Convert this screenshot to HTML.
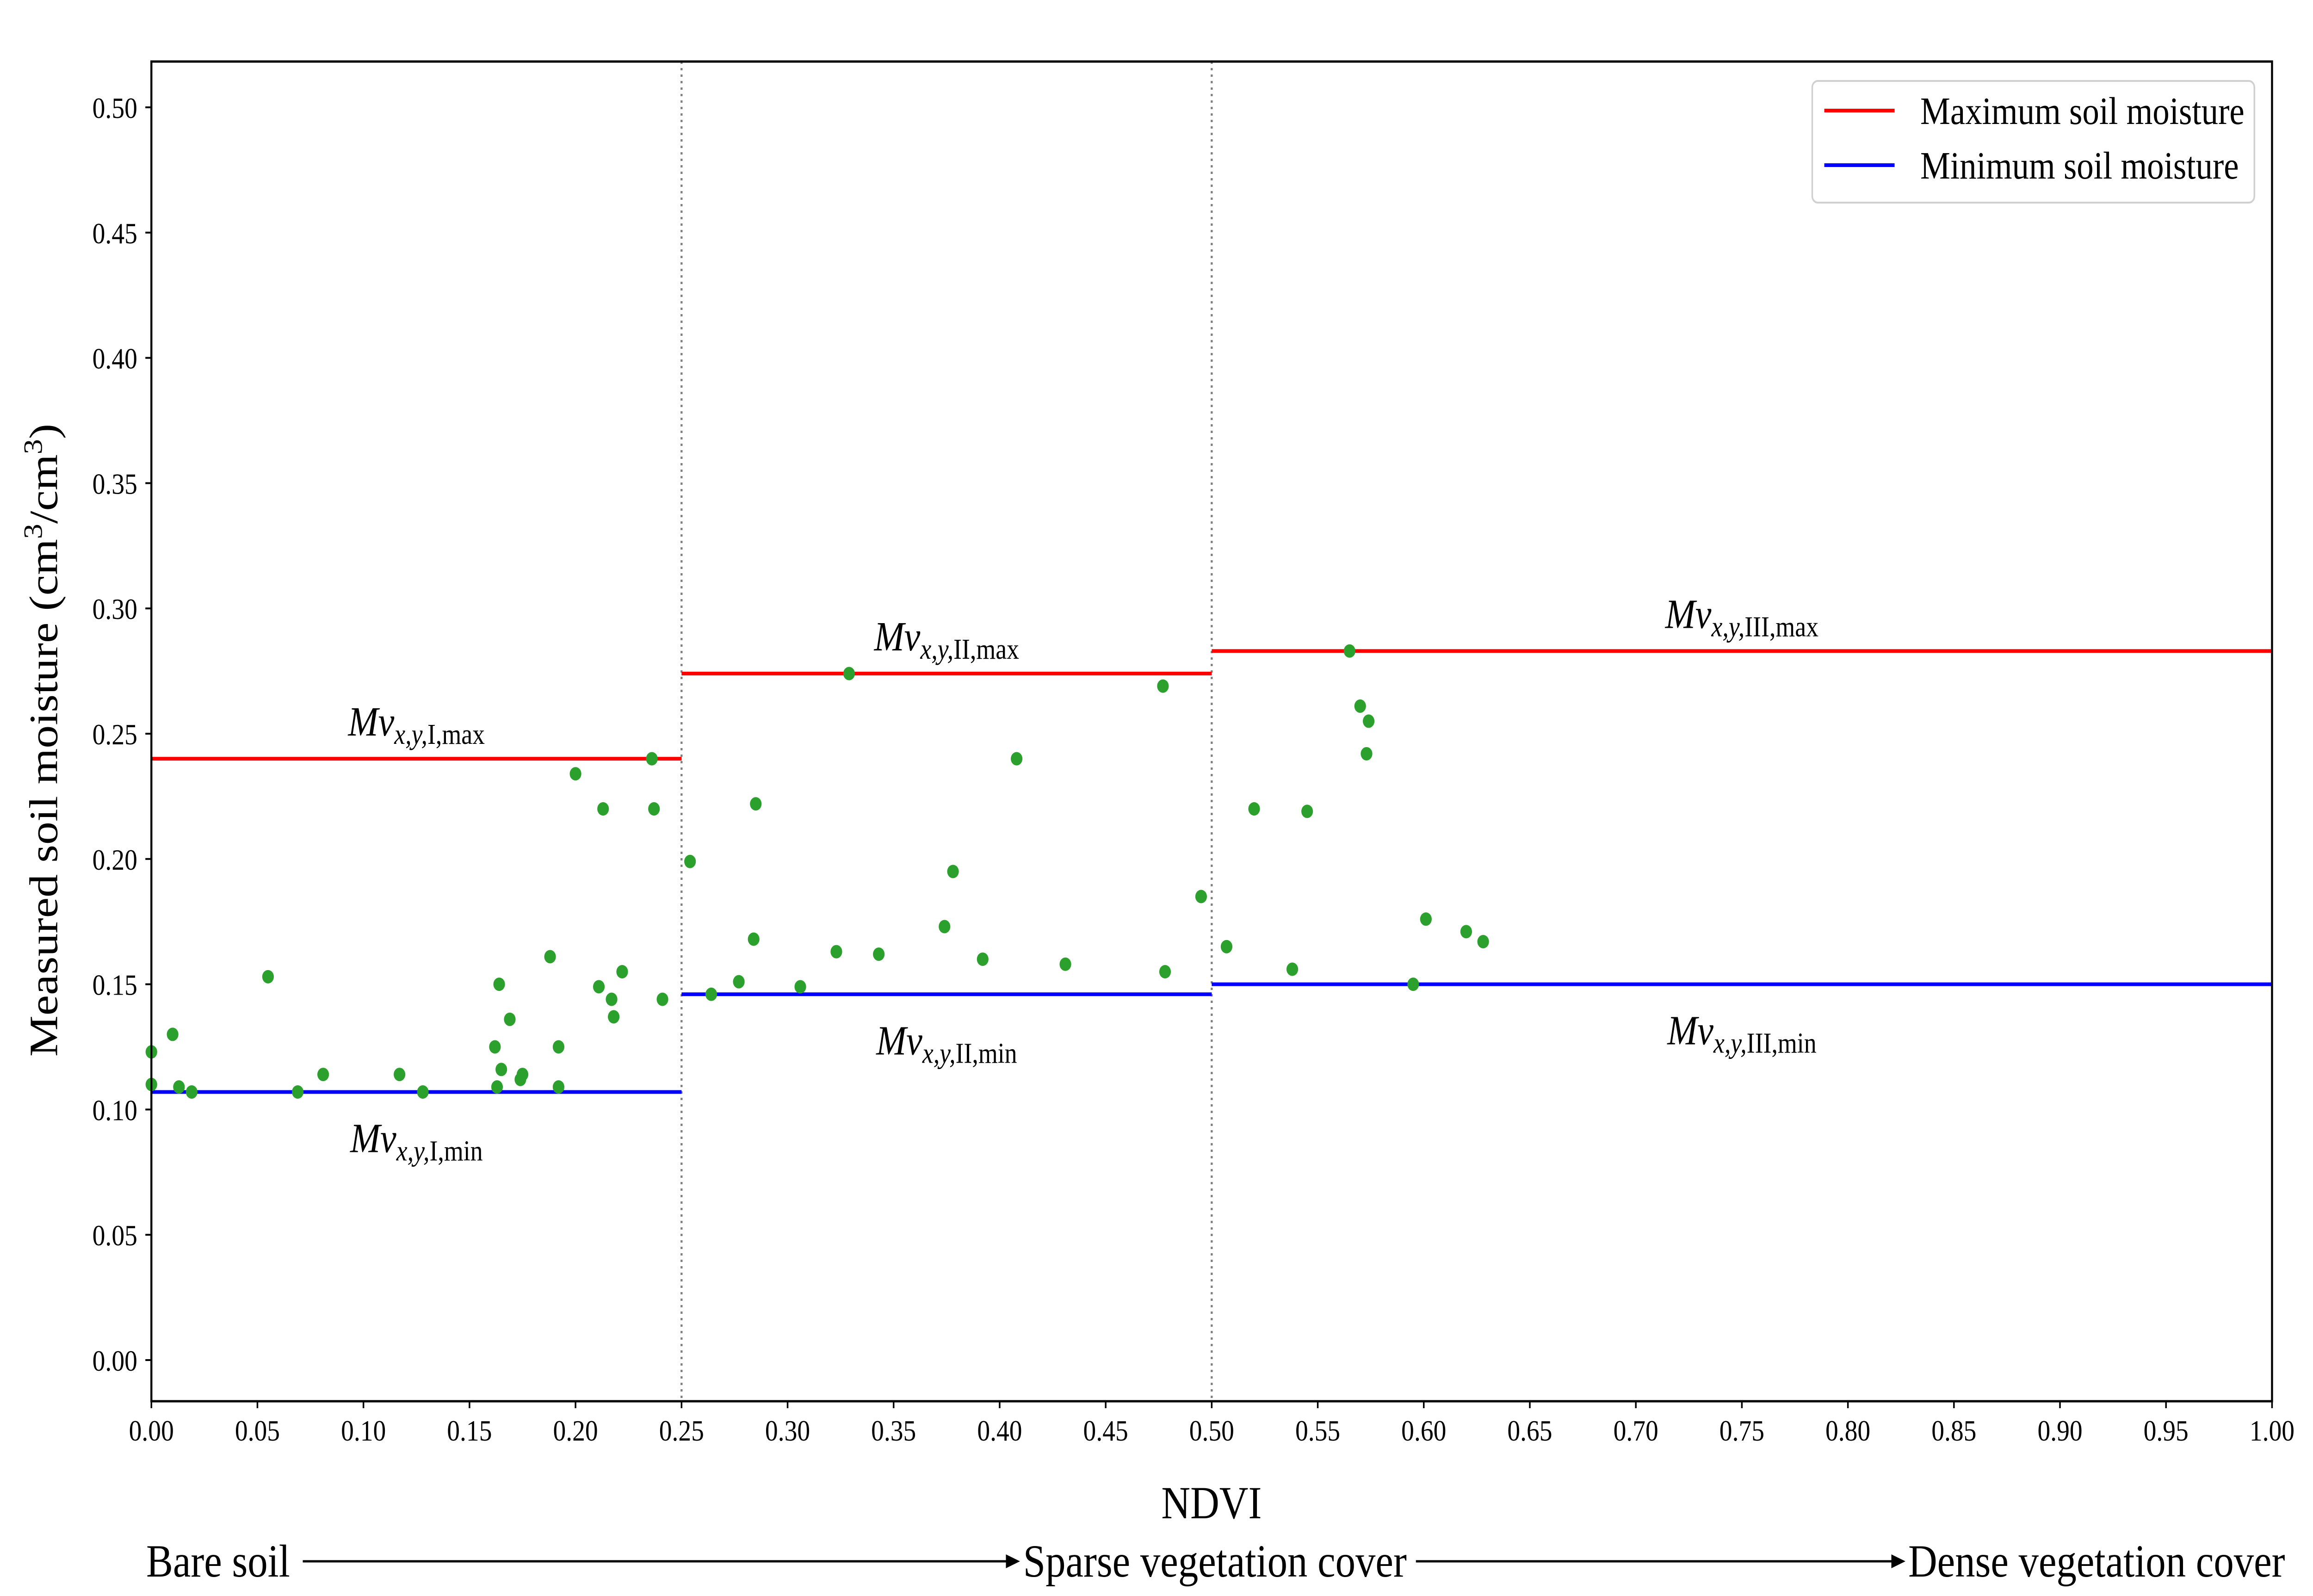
<!DOCTYPE html>
<html><head><meta charset="utf-8">
<style>
html,body{margin:0;padding:0;background:#fff;width:100%;height:100%;overflow:hidden;}
svg{display:block;font-family:"Liberation Serif","DejaVu Serif",serif;width:100vw;height:100vh;}
</style></head>
<body>
<svg id="chart" viewBox="0 0 5760 3450" preserveAspectRatio="none" xmlns="http://www.w3.org/2000/svg">
<rect x="0" y="0" width="5760" height="3450" fill="#fff"/>
<g id="plot"></g>
<g id="legend">
  <rect x="4513" y="175" width="1101" height="263" rx="14" fill="#fff" stroke="#d0d0d0" stroke-width="4"/>
  <line x1="4543" y1="239" x2="4718" y2="239" stroke="#ff0000" stroke-width="8"/>
  <text x="4782" y="268" font-size="84">Maximum soil moisture</text>
  <line x1="4543" y1="357" x2="4718" y2="357" stroke="#0000ff" stroke-width="8"/>
  <text x="4782" y="386" font-size="84">Minimum soil moisture</text>
</g>
<text x="3017" y="3282" font-size="100" text-anchor="middle">NDVI</text>
<text transform="translate(142,1600) rotate(-90)" font-size="100" text-anchor="middle">Measured soil moisture (cm<tspan font-size="66" dy="-38">3</tspan><tspan dy="38">/cm</tspan><tspan font-size="66" dy="-38">3</tspan><tspan dy="38">)</tspan></text>
<g>
  <text x="364" y="3408" font-size="100">Bare soil</text>
  <line x1="754" y1="3375" x2="2510" y2="3375" stroke="#000" stroke-width="5"/>
  <polygon points="2540,3375 2505,3360 2505,3390" fill="#000"/>
  <text x="2548" y="3408" font-size="100">Sparse vegetation cover</text>
  <line x1="3526" y1="3375" x2="4715" y2="3375" stroke="#000" stroke-width="5"/>
  <polygon points="4745,3375 4710,3360 4710,3390" fill="#000"/>
  <text x="4752" y="3408" font-size="100">Dense vegetation cover</text>
</g>
</svg>
<script>
const xTicks = [0,0.05,0.1,0.15,0.2,0.25,0.3,0.35,0.4,0.45,0.5,0.55,0.6,0.65,0.7,0.75,0.8,0.85,0.9,0.95,1.0];
const yTicks = [0,0.05,0.1,0.15,0.2,0.25,0.3,0.35,0.4,0.45,0.5];
const pointsX = [0.0,0.0,0.01,0.013,0.019,0.055,0.069,0.081,0.117,0.128,0.162,0.164,0.163,0.165,0.169,0.174,0.175,0.188,0.192,0.192,0.200,0.211,0.213,0.217,0.218,0.222,0.236,0.237,0.241,
 0.254,0.264,0.277,0.284,0.285,0.306,0.323,0.329,0.343,0.374,0.378,0.392,0.408,0.431,0.477,0.478,0.495,
 0.507,0.520,0.538,0.545,0.565,0.570,0.574,0.573,0.595,0.601,0.620,0.628];
const pointsY = [0.123,0.110,0.130,0.109,0.107,0.153,0.107,0.114,0.114,0.107,0.125,0.150,0.109,0.116,0.136,0.112,0.114,0.161,0.125,0.109,0.234,0.149,0.220,0.144,0.137,0.155,0.240,0.220,0.144,
 0.199,0.146,0.151,0.168,0.222,0.149,0.163,0.274,0.162,0.173,0.195,0.160,0.240,0.158,0.269,0.155,0.185,
 0.165,0.220,0.156,0.219,0.283,0.261,0.255,0.242,0.150,0.176,0.171,0.167];
const zoneStart = [0,0.25,0.5];
const zoneEnd = [0.25,0.5,1.0];
const zoneMax = [0.240,0.274,0.283];
const zoneMin = [0.107,0.146,0.150];
const zoneNames = ["I","II","III"];
const dividers = [0.25,0.5];

const L=377,R=5658,T=133,B=3029;
const sx = v => L + v*(R-L);
const sy = v => 2940 - v*5416;
const NS="http://www.w3.org/2000/svg";
const plot=document.getElementById('plot');
function mk(tag,attrs,parent){const e=document.createElementNS(NS,tag);for(const k in attrs)e.setAttribute(k,attrs[k]);(parent||plot).appendChild(e);return e;}

dividers.forEach(d=>{
  const l=mk('line',{x1:sx(d),y1:T,x2:sx(d),y2:B,stroke:'#808080','stroke-width':5,'stroke-dasharray':'5 9'});
  
  
});
zoneStart.forEach((s,i)=>{
  const a=mk('line',{x1:sx(s),y1:sy(zoneMax[i]),x2:sx(zoneEnd[i]),y2:sy(zoneMax[i]),stroke:'#ff0000','stroke-width':8});
  
  
  const b=mk('line',{x1:sx(s),y1:sy(zoneMin[i]),x2:sx(zoneEnd[i]),y2:sy(zoneMin[i]),stroke:'#0000ff','stroke-width':8});
  
  
  const cx = (s+zoneEnd[i])/2;
  [['max',zoneMax[i],-50],['min',zoneMin[i],130]].forEach(([k,v,off])=>{
    const t=mk('text',{x:sx(cx),y:sy(v)+off,'font-size':90,'text-anchor':'middle','font-style':'italic'});
    
    
    t.innerHTML='Mv<tspan font-size="62" dy="18">x,y,</tspan><tspan font-size="62" font-style="normal">'+zoneNames[i]+','+k+'</tspan>';
  });
});
pointsX.forEach((x,i)=>{
  const c=mk('circle',{cx:sx(x),cy:sy(pointsY[i]),r:14.5,fill:'#2ca02c'});
  
  
});
const fr=mk('rect',{x:L,y:T,width:R-L,height:B-T,fill:'none',stroke:'#000','stroke-width':5});


xTicks.forEach(v=>{
  const l=mk('line',{x1:sx(v),y1:B,x2:sx(v),y2:B+15,stroke:'#000','stroke-width':4});
  
  
  const t=mk('text',{x:sx(v),y:B+85,'font-size':64,'text-anchor':'middle'});
  
  
  t.textContent=v.toFixed(2);
});
yTicks.forEach(v=>{
  const l=mk('line',{x1:L-15,y1:sy(v),x2:L,y2:sy(v),stroke:'#000','stroke-width':4});
  
  
  const t=mk('text',{x:L-35,y:sy(v)+23,'font-size':64,'text-anchor':'end'});
  
  
  t.textContent=v.toFixed(2);
});
</script>
</body></html>
